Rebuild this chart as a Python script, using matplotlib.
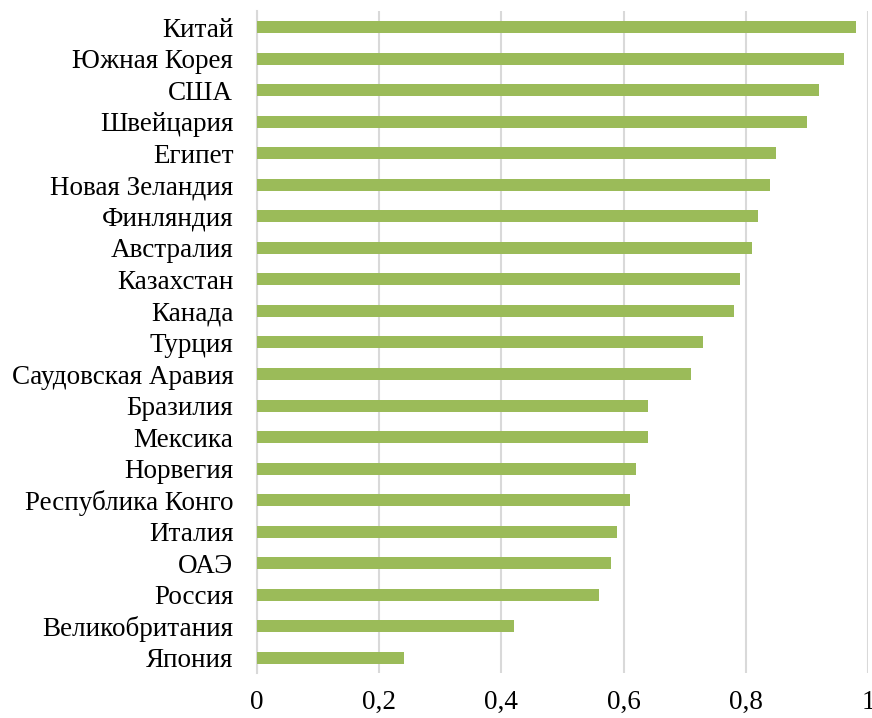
import matplotlib.pyplot as plt
from matplotlib.ticker import FuncFormatter

countries = [
    "Китай", "Южная Корея", "США", "Швейцария", "Египет", "Новая Зеландия",
    "Финляндия", "Австралия", "Казахстан", "Канада", "Турция",
    "Саудовская Аравия", "Бразилия", "Мексика", "Норвегия",
    "Республика Конго", "Италия", "ОАЭ", "Россия", "Великобритания", "Япония",
]
values = [
    0.98, 0.96, 0.92, 0.90, 0.85, 0.84, 0.82, 0.81, 0.79, 0.78, 0.73,
    0.71, 0.64, 0.64, 0.62, 0.61, 0.59, 0.58, 0.56, 0.42, 0.24,
]
xticks = [0, 0.2, 0.4, 0.6, 0.8, 1.0]

plt.rcParams["font.family"] = ["Liberation Serif", "DejaVu Serif"]

fig = plt.figure(figsize=(8.72, 7.18), dpi=100)
ax = fig.add_axes([0.2947, 0.062, 0.7007, 0.922])

y = list(range(len(countries)))
ax.barh(y, values, height=0.38, color="#9BBB59", zorder=3)

ax.set_ylim(len(countries) - 0.5, -0.5)
ax.set_yticks(y)
ax.set_yticklabels(countries, fontsize=19.5)
ax.set_xlim(0, 1)
ax.set_xticks(xticks)
ax.xaxis.set_major_formatter(FuncFormatter(lambda v, _: f"{v:g}".replace(".", ",")))
ax.tick_params(axis="x", labelsize=19.5, length=0, pad=12)
ax.tick_params(axis="y", length=0, pad=17)

ax.grid(axis="x", color="#D9D9D9", linewidth=1.5, zorder=0)
for side in ["top", "right", "bottom"]:
    ax.spines[side].set_visible(False)
ax.spines["left"].set_color("#D9D9D9")
ax.spines["left"].set_linewidth(1.5)

fig.savefig("out.png", dpi=100)
